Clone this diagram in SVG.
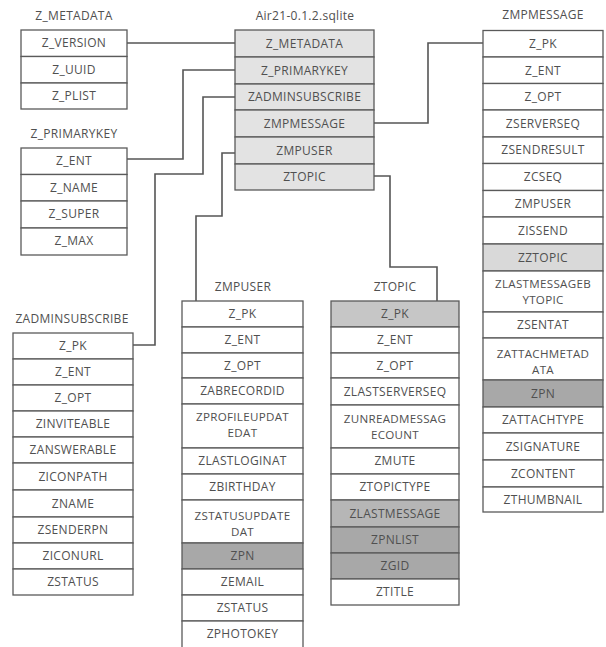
<svg xmlns="http://www.w3.org/2000/svg" width="606" height="647" viewBox="0 0 606 647">
<style>
text{font-family:"Open Sans","Noto Sans","DejaVu Sans",sans-serif;font-size:12px;fill:#505050;text-anchor:middle;letter-spacing:0.3px}
text.t2{font-size:11.6px}
rect{fill:#ffffff;stroke:#5a5a5a;stroke-width:1.3}
rect.h{fill:#e3e3e3}
rect.g1{fill:#d9d9d9}
rect.g2{fill:#c6c6c6}
rect.g2b{fill:#b6b6b6}
rect.g3{fill:#a8a8a8}
.conn path{fill:none;stroke:#555555;stroke-width:1.6}
</style>
<rect x="0" y="0" width="606" height="647" style="fill:#ffffff;stroke:none"/>
<g class="conn" id="connectors">
<path d="M127,43 H235"/>
<path d="M235,70 H183 V159 H127"/>
<path d="M235,97 H203 V174 H155 V345 H133"/>
<path d="M374,123 H428 V43 H483"/>
<path d="M235,153 H222 V216 H196 V301"/>
<path d="M374,176 H390 V267 H437 V301"/>
</g>
<g id="z_metadata">
<text x="74" y="20">Z_METADATA</text>
<rect x="21" y="30" width="106" height="26.5"/><text x="74" y="47">Z_VERSION</text>
<rect x="21" y="56.5" width="106" height="26.5"/><text x="74" y="74">Z_UUID</text>
<rect x="21" y="83" width="106" height="26"/><text x="74" y="100">Z_PLIST</text>
</g>
<g id="z_primarykey">
<text x="74" y="138">Z_PRIMARYKEY</text>
<rect x="21" y="148" width="106" height="26.5"/><text x="74" y="165">Z_ENT</text>
<rect x="21" y="174.5" width="106" height="26.5"/><text x="74" y="192">Z_NAME</text>
<rect x="21" y="201" width="106" height="27"/><text x="74" y="218">Z_SUPER</text>
<rect x="21" y="228" width="106" height="27"/><text x="74" y="245">Z_MAX</text>
</g>
<g id="sqlite">
<text x="305" y="20">Air21-0.1.2.sqlite</text>
<rect class="h" x="235" y="30" width="139" height="27"/><text x="304.5" y="47.5">Z_METADATA</text>
<rect class="h" x="235" y="57" width="139" height="27"/><text x="304.5" y="74.5">Z_PRIMARYKEY</text>
<rect class="h" x="235" y="84" width="139" height="26"/><text x="304.5" y="101">ZADMINSUBSCRIBE</text>
<rect class="h" x="235" y="110" width="139" height="27"/><text x="304.5" y="127.5">ZMPMESSAGE</text>
<rect class="h" x="235" y="137" width="139" height="27"/><text x="304.5" y="154.5">ZMPUSER</text>
<rect class="h" x="235" y="164" width="139" height="26"/><text x="304.5" y="181">ZTOPIC</text>
</g>
<g id="zmpmessage">
<text x="543" y="19">ZMPMESSAGE</text>
<rect x="483" y="30.5" width="120" height="26.5"/><text x="543" y="48">Z_PK</text>
<rect x="483" y="57" width="120" height="26.5"/><text x="543" y="74.5">Z_ENT</text>
<rect x="483" y="83.5" width="120" height="26.5"/><text x="543" y="101">Z_OPT</text>
<rect x="483" y="110" width="120" height="27"/><text x="543" y="127.5">ZSERVERSEQ</text>
<rect x="483" y="137" width="120" height="26.5"/><text x="543" y="154">ZSENDRESULT</text>
<rect x="483" y="163.5" width="120" height="27"/><text x="543" y="181">ZCSEQ</text>
<rect x="483" y="190.5" width="120" height="26.5"/><text x="543" y="208">ZMPUSER</text>
<rect x="483" y="217" width="120" height="27"/><text x="543" y="234.5">ZISSEND</text>
<rect class="g1" x="483" y="244" width="120" height="27"/><text x="543" y="261.5">ZZTOPIC</text>
<rect x="483" y="271" width="120" height="41"/><text class="t2" x="543" y="288">ZLASTMESSAGEB</text><text class="t2" x="543" y="304">YTOPIC</text>
<rect x="483" y="312" width="120" height="26"/><text x="543" y="329">ZSENTAT</text>
<rect x="483" y="338" width="120" height="42"/><text class="t2" x="543" y="358">ZATTACHMETAD</text><text class="t2" x="543" y="374">ATA</text>
<rect class="g3" x="483" y="380" width="120" height="27"/><text x="543" y="397.5">ZPN</text>
<rect x="483" y="407" width="120" height="26"/><text x="543" y="424">ZATTACHTYPE</text>
<rect x="483" y="433" width="120" height="27"/><text x="543" y="450.5">ZSIGNATURE</text>
<rect x="483" y="460" width="120" height="27"/><text x="543" y="477.5">ZCONTENT</text>
<rect x="483" y="487" width="120" height="25"/><text x="543" y="503.5">ZTHUMBNAIL</text>
</g>
<g id="zadminsubscribe">
<text x="72" y="323">ZADMINSUBSCRIBE</text>
<rect x="13" y="333" width="120" height="26"/><text x="73" y="350">Z_PK</text>
<rect x="13" y="359" width="120" height="26"/><text x="73" y="376">Z_ENT</text>
<rect x="13" y="385" width="120" height="26"/><text x="73" y="402">Z_OPT</text>
<rect x="13" y="411" width="120" height="26"/><text x="73" y="428">ZINVITEABLE</text>
<rect x="13" y="437" width="120" height="26"/><text x="73" y="454">ZANSWERABLE</text>
<rect x="13" y="463" width="120" height="27"/><text x="73" y="480.5">ZICONPATH</text>
<rect x="13" y="490" width="120" height="27"/><text x="73" y="507.5">ZNAME</text>
<rect x="13" y="517" width="120" height="26"/><text x="73" y="534">ZSENDERPN</text>
<rect x="13" y="543" width="120" height="26"/><text x="73" y="560">ZICONURL</text>
<rect x="13" y="569" width="120" height="26"/><text x="73" y="586">ZSTATUS</text>
</g>
<g id="zmpuser">
<text x="243" y="291">ZMPUSER</text>
<rect x="182" y="301" width="121" height="26"/><text x="242.5" y="318">Z_PK</text>
<rect x="182" y="327" width="121" height="26"/><text x="242.5" y="344">Z_ENT</text>
<rect x="182" y="353" width="121" height="25"/><text x="242.5" y="369.5">Z_OPT</text>
<rect x="182" y="378" width="121" height="26"/><text x="242.5" y="395">ZABRECORDID</text>
<rect x="182" y="404" width="121" height="44"/><text class="t2" x="242.5" y="421">ZPROFILEUPDAT</text><text class="t2" x="242.5" y="437">EDAT</text>
<rect x="182" y="448" width="121" height="26"/><text x="242.5" y="465">ZLASTLOGINAT</text>
<rect x="182" y="474" width="121" height="26"/><text x="242.5" y="491">ZBIRTHDAY</text>
<rect x="182" y="500" width="121" height="43"/><text class="t2" x="242.5" y="520">ZSTATUSUPDATE</text><text class="t2" x="242.5" y="536">DAT</text>
<rect class="g3" x="182" y="543" width="121" height="26"/><text x="242.5" y="560">ZPN</text>
<rect x="182" y="569" width="121" height="26"/><text x="242.5" y="586">ZEMAIL</text>
<rect x="182" y="595" width="121" height="26"/><text x="242.5" y="612">ZSTATUS</text>
<rect x="182" y="621" width="121" height="28"/><text x="242.5" y="638">ZPHOTOKEY</text>
</g>
<g id="ztopic">
<text x="395" y="291">ZTOPIC</text>
<rect class="g2" x="331" y="301" width="128" height="26"/><text x="395" y="318">Z_PK</text>
<rect x="331" y="327" width="128" height="26"/><text x="395" y="344">Z_ENT</text>
<rect x="331" y="353" width="128" height="25"/><text x="395" y="369.5">Z_OPT</text>
<rect x="331" y="378" width="128" height="27"/><text x="395" y="395.5">ZLASTSERVERSEQ</text>
<rect x="331" y="405" width="128" height="43"/><text class="t2" x="395" y="423">ZUNREADMESSAG</text><text class="t2" x="395" y="439">ECOUNT</text>
<rect x="331" y="448" width="128" height="26"/><text x="395" y="465">ZMUTE</text>
<rect x="331" y="474" width="128" height="26"/><text x="395" y="491">ZTOPICTYPE</text>
<rect class="g2b" x="331" y="500" width="128" height="27"/><text x="395" y="517.5">ZLASTMESSAGE</text>
<rect class="g3" x="331" y="527" width="128" height="26"/><text x="395" y="544">ZPNLIST</text>
<rect class="g3" x="331" y="553" width="128" height="26"/><text x="395" y="570">ZGID</text>
<rect x="331" y="579" width="128" height="26"/><text x="395" y="596">ZTITLE</text>
</g>
</svg>
